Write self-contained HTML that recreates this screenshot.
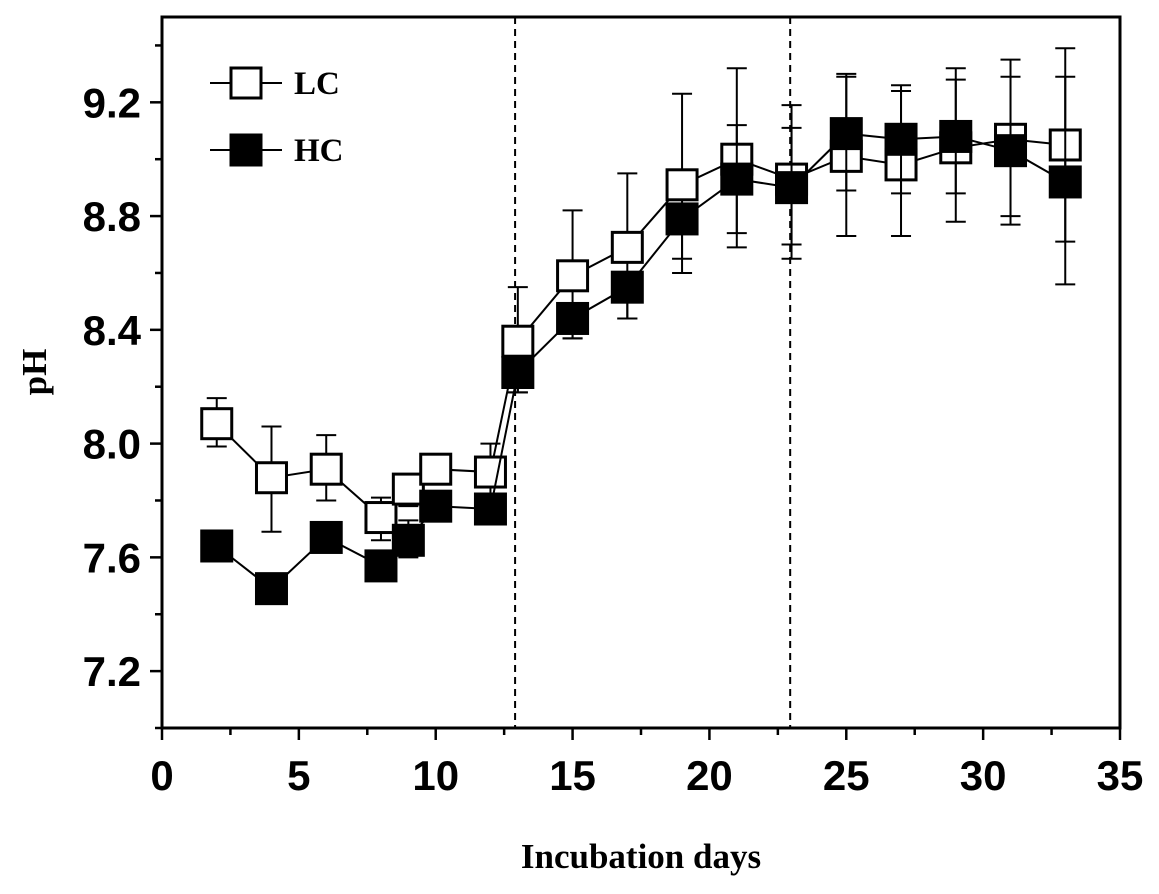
<!DOCTYPE html>
<html><head><meta charset="utf-8"><style>
body{margin:0;background:#fff}
text{font-family:"Liberation Sans",sans-serif}
</style></head><body>
<svg id="chart" width="1159" height="889" xmlns="http://www.w3.org/2000/svg">
<g id="g"></g>
</svg>
<script>
const days=[2,4,6,8,9,10,12,13,15,17,19,21,23,25,27,29,31,33];
const lcVals=[8.07,7.88,7.91,7.74,7.84,7.91,7.90,8.36,8.59,8.69,8.91,9.00,8.93,9.01,8.98,9.04,9.07,9.05];
const lcUp=[8.16,8.06,8.03,7.81,7.87,7.95,8.00,8.55,8.82,8.95,9.23,9.32,9.19,9.30,9.26,9.32,9.35,9.39];
const lcLo=[7.99,7.69,7.80,7.66,7.78,7.87,7.80,8.18,8.37,8.44,8.60,8.69,8.65,8.73,8.73,8.78,8.80,8.71];
const hcVals=[7.64,7.49,7.67,7.57,7.66,7.78,7.77,8.25,8.44,8.55,8.79,8.93,8.90,9.09,9.07,9.08,9.03,8.92];
const hcUp=[7.64,7.49,7.67,7.57,7.73,7.78,7.77,8.25,8.44,8.55,8.79,9.12,9.11,9.29,9.24,9.28,9.29,9.29];
const hcLo=[7.64,7.49,7.67,7.57,7.60,7.78,7.77,8.18,8.37,8.44,8.65,8.74,8.70,8.89,8.88,8.88,8.77,8.56];
const xTicks=[0,5,10,15,20,25,30,35];
const yTicks=[7.2,7.6,8.0,8.4,8.8,9.2];
const phaseLines=[12.9,22.95];
const L=162,R=1120,T=17,B=728;
const X=d=>L+(d-0)/35*(R-L);
const Y=v=>B-(v-7.0)/2.5*(B-T);
const g=document.getElementById('g');
const NS='http://www.w3.org/2000/svg';
function mk(tag,attrs,parent){const e=document.createElementNS(NS,tag);for(const k in attrs)e.setAttribute(k,attrs[k]);(parent||g).appendChild(e);return e;}
const fr=mk('rect',{x:L,y:T,width:R-L,height:B-T,fill:'none',stroke:'#000','stroke-width':3});


for(let d=0;d<=35;d+=2.5){const major=d%5===0;const t=mk('line',{x1:X(d),x2:X(d),y1:B,y2:B+(major?12:7),stroke:'#000','stroke-width':2.5});

}
xTicks.forEach(d=>{const t=mk('text',{x:X(d),y:790,'text-anchor':'middle','font-size':42,'font-weight':'bold'});t.textContent=d;

});
for(let v=7.0;v<=9.5001;v+=0.2){const major=Math.round(v*10)%4===0;const t=mk('line',{x1:L-(major?12:7),x2:L,y1:Y(v),y2:Y(v),stroke:'#000','stroke-width':2.5});

}
yTicks.forEach(v=>{const t=mk('text',{x:141,y:Y(v)+15,'text-anchor':'end','font-size':42,'font-weight':'bold'});t.textContent=v.toFixed(1);

});
const xt=mk('text',{x:641,y:868,'text-anchor':'middle','font-size':35,'font-weight':'bold',style:'font-family:"Liberation Serif",serif'});xt.textContent='Incubation days';


const yt=mk('text',{x:0,y:0,'text-anchor':'middle','font-size':35,'font-weight':'bold',transform:'translate(46,372) rotate(-90)',style:'font-family:"Liberation Serif",serif'});yt.textContent='pH';


phaseLines.forEach(d=>{const l=mk('line',{x1:X(d),x2:X(d),y1:T,y2:B,stroke:'#000','stroke-width':2,'stroke-dasharray':'7,5'});

});
function series(vals,up,lo,fill,name){
 const pts=days.map((d,i)=>X(d)+','+Y(vals[i])).join(' ');
 const pl=mk('polyline',{points:pts,fill:'none',stroke:'#000','stroke-width':2});
 
 
 days.forEach((d,i)=>{const x=X(d);
  if(up[i]-lo[i]>0.001){
   const e=mk('path',{d:`M${x},${Y(up[i])}V${Y(lo[i])}M${x-10},${Y(up[i])}H${x+10}M${x-10},${Y(lo[i])}H${x+10}`,stroke:'#000','stroke-width':2,fill:'none'});
   
   }
 });
 days.forEach((d,i)=>{const r=mk('rect',{x:X(d)-15,y:Y(vals[i])-15,width:30,height:30,fill:fill,stroke:'#000','stroke-width':3});
  
  });
}
series(lcVals,lcUp,lcLo,'#fff','lc');
series(hcVals,hcUp,hcLo,'#000','hc');
[['LC','#fff',83],['HC','#000',150]].forEach(([lab,f,y])=>{
 const l=mk('line',{x1:210,x2:282,y1:y,y2:y,stroke:'#000','stroke-width':2});
 
 
 const r=mk('rect',{x:231,y:y-15,width:30,height:30,fill:f,stroke:'#000','stroke-width':3});
 
 
 const t=mk('text',{x:294,y:y+11,'font-size':33,'font-weight':'bold',style:'font-family:"Liberation Serif",serif'});t.textContent=lab;
 
 
});
</script>
</body></html>
